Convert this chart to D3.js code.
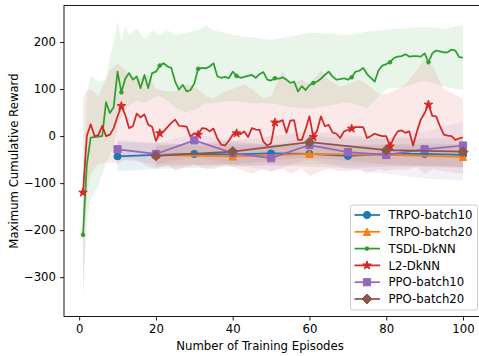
<!DOCTYPE html>
<html>
<head>
<meta charset="utf-8">
<script src="https://cdn.jsdelivr.net/npm/d3@7/dist/d3.min.js"></script>
<style>
  html, body { margin: 0; padding: 0; background: #fff; }
  svg { display: block; font-family: "DejaVu Sans", sans-serif; }
</style>
</head>
<body>
<svg id="chart" width="479" height="356"></svg>
<script>
// Episodes 1..100 for the two DkNN curves
const episodes = d3.range(1, 101);

const tsdlValues = [-210, -60, -3, -2, -1, 0, 72, 49, 62, 137,
  93, 122, 134, 120, 127, 102, 130, 102, 134, 137,
  150, 155, 148, 145, 116, 99, 109, 95, 98, 112,
  143, 145, 144, 148, 155, 127, 124, 126, 123, 137,
  128, 124, 126, 128, 130, 124, 132, 136, 120, 118,
  123, 122, 125, 120, 113, 116, 95, 106, 98, 108,
  113, 116, 122, 130, 137, 127, 120, 121, 123, 120,
  125, 137, 139, 145, 132, 124, 116, 140, 150, 153,
  157, 166, 169, 170, 174, 169, 170, 170, 169, 176,
  157, 176, 182, 180, 178, 178, 184, 182, 168, 167];

const l2Values = [-120, 0, 25, 0, 2, 22, 0, 3, 17, 42,
  64, 45, 17, 21, 48, 40, 46, 24, 20, -10,
  6, 10, 19, 28, 35, 22, 21, 20, -1, 6,
  3, 17, 16, 10, 16, -5, -18, -20, -10, 3,
  6, 4, 10, -2, 17, 14, 13, -12, -20, -15,
  29, 30, 34, 7, 33, 34, -8, -8, 15, 42,
  -2, 12, 42, 21, 24, 8, 5, -4, 10, 13,
  16, 19, 19, 19, -4, 0, 5, 2, 0, 0,
  -22, -3, 10, 12, 7, 10, -20, 10, 35, 49,
  67, 43, 42, 21, 3, 1, 0, -8, -5, -3];

// Shaded spread of the DkNN curves, read at a coarser step
const tsdlBandX = [1, 2, 3, 5, 7, 8, 9, 10, 11, 12, 13, 15, 17, 19, 21, 23, 25, 28, 31, 33,
  35, 40, 45, 50, 55, 60, 65, 70, 75, 80, 85, 90, 95, 100];
const tsdlUpper = [-100, 90, 130, 115, 120, 170, 200, 245, 200, 233, 215, 230, 205, 225, 215, 225, 215, 220, 225, 235,
  225, 215, 210, 205, 212, 220, 218, 215, 222, 226, 230, 232, 228, 237];
const tsdlLower = [-350, -180, -135, -105, -57, -40, -20, 20, 40, 55, 65, 75, 70, 80, 85, 75, 60, 50, 60, 70,
  70, 75, 70, 70, 62, 58, 65, 72, 60, 100, 105, 118, 105, 98];

const l2BandX = [1, 2, 3, 5, 8, 10, 12, 15, 18, 20, 23, 25, 28, 30, 33, 35, 38, 40, 43, 45,
  48, 50, 53, 55, 58, 60, 63, 65, 68, 70, 73, 75, 78, 80, 83, 85, 88, 90, 92, 95, 100];
const l2Upper = [80, 95, 100, 85, 140, 155, 140, 120, 130, 100, 95, 95, 110, 105, 85, 80, 95, 100, 110, 100,
  80, 85, 140, 110, 120, 110, 140, 120, 105, 110, 120, 110, 90, 90, 100, 110, 140, 165, 150, 100, 80];
const l2Lower = [-330, -120, -80, -60, -55, -60, -50, -50, -65, -70, -60, -75, -65, -60, -70, -70, -60, -65, -75, -80,
  -70, -75, -70, -80, -70, -85, -75, -70, -75, -75, -70, -80, -70, -75, -70, -72, -65, -80, -70, -75, -80];

// Baselines, evaluated every 10 / 20 episodes
const batch10X = [10, 20, 30, 40, 50, 60, 70, 80, 90, 100];
const batch20X = [20, 40, 60, 80, 100];

const trpo10Values = [-43, -40, -38, -39, -37, -38, -42, -38, -38, -40];
const trpo10Upper = [-12, -15, -18, -15, -17, -18, -20, -18, -15, -18];
const trpo10Lower = [-75, -70, -68, -65, -62, -65, -68, -65, -65, -68];

const trpo20Values = [-40, -43, -38, -40, -44];
const trpo20Upper = [-20, -22, -18, -20, -22];
const trpo20Lower = [-60, -62, -60, -62, -65];

const ppo10Values = [-28, -38, -9, -36, -47, -19, -34, -40, -28, -20];
const ppo10Upper = [-8, -15, 5, -10, -20, 0, -5, -5, 10, 30];
const ppo10Lower = [-50, -60, -45, -60, -75, -50, -70, -80, -90, -95];

const ppo20Values = [-42, -33, -13, -30, -33];
const ppo20Upper = [-20, -10, 10, -5, -5];
const ppo20Lower = [-65, -60, -45, -60, -65];

const xTicks = [0, 20, 40, 60, 80, 100];
const yTicks = [-300, -200, -100, 0, 100, 200];

// Series in plotting order (later ones sit on top)
const series = [
  { name: 'TRPO-batch10', color: '#1f77b4', marker: 'circle', x: batch10X, y: trpo10Values, lo: trpo10Lower, hi: trpo10Upper, bx: batch10X, every: 1 },
  { name: 'TRPO-batch20', color: '#ff7f0e', marker: 'triangle', x: batch20X, y: trpo20Values, lo: trpo20Lower, hi: trpo20Upper, bx: batch20X, every: 1 },
  { name: 'TSDL-DkNN', color: '#2ca02c', marker: 'point', x: episodes, y: tsdlValues, lo: tsdlLower, hi: tsdlUpper, bx: tsdlBandX, every: 10 },
  { name: 'L2-DkNN', color: '#d62728', marker: 'star', x: episodes, y: l2Values, lo: l2Lower, hi: l2Upper, bx: l2BandX, every: 10 },
  { name: 'PPO-batch10', color: '#9467bd', marker: 'square', x: batch10X, y: ppo10Values, lo: ppo10Lower, hi: ppo10Upper, bx: batch10X, every: 1 },
  { name: 'PPO-batch20', color: '#8c564b', marker: 'diamond', x: batch20X, y: ppo20Values, lo: ppo20Lower, hi: ppo20Upper, bx: batch20X, every: 1 }
];

const FONT = 11.7;
const svg = d3.select('#chart');
const margin = { left: 64, top: 5.5, right: 482, bottom: 316.5 };

const x = d3.scaleLinear().domain([-3.95, 104.95]).range([margin.left, margin.right]);
const y = d3.scaleLinear().domain([-383.6, 277.7]).range([margin.bottom, margin.top]);

svg.append('defs').append('clipPath').attr('id', 'plot-clip')
  .append('rect')
    .attr('x', margin.left).attr('y', margin.top)
    .attr('width', margin.right - margin.left).attr('height', margin.bottom - margin.top);

const plot = svg.append('g').attr('clip-path', 'url(#plot-clip)');

// Bands first (matplotlib puts fills below all lines)
const area = d3.area().x(d => x(d[0])).y0(d => y(d[1])).y1(d => y(d[2]));
series.forEach(s => {
  plot.append('path')
      .datum(s.bx.map((v, i) => [v, s.lo[i], s.hi[i]]))
      .attr('fill', s.color)
      .attr('fill-opacity', 0.1)
      .attr('d', area);
});

// Marker shapes, roughly matplotlib's default markersize 6 at this scale
function markerPath(type) {
  const p = d3.path();
  if (type === 'circle') { p.arc(0, 0, 3.6, 0, 2 * Math.PI); }
  else if (type === 'point') { p.arc(0, 0, 1.8, 0, 2 * Math.PI); }
  else if (type === 'square') { p.rect(-3.6, -3.6, 7.2, 7.2); }
  else if (type === 'triangle') { p.moveTo(0, -3.7); p.lineTo(3.7, 3.7); p.lineTo(-3.7, 3.7); p.closePath(); }
  else if (type === 'diamond') { p.moveTo(0, -5); p.lineTo(5, 0); p.lineTo(0, 5); p.lineTo(-5, 0); p.closePath(); }
  else if (type === 'star') {
    for (let i = 0; i < 10; i++) {
      const r = i % 2 === 0 ? 4.5 : 1.75;
      const a = -Math.PI / 2 + i * Math.PI / 5;
      if (i === 0) p.moveTo(r * Math.cos(a), r * Math.sin(a));
      else p.lineTo(r * Math.cos(a), r * Math.sin(a));
    }
    p.closePath();
  }
  return p.toString();
}

const line = d3.line().x(d => x(d[0])).y(d => y(d[1]));
series.forEach(s => {
  const pts = s.x.map((v, i) => [v, s.y[i]]);
  const g = plot.append('g');
  g.append('path')
      .datum(pts)
      .attr('fill', 'none')
      .attr('stroke', s.color)
      .attr('stroke-width', 1.75)
      .attr('stroke-linejoin', 'round')
      .attr('d', line);
  g.selectAll('path.mk')
    .data(pts.filter((d, i) => i % s.every === 0))
    .join('path')
      .attr('class', 'mk')
      .attr('transform', d => `translate(${x(d[0])},${y(d[1])})`)
      .attr('d', markerPath(s.marker))
      .attr('fill', s.color)
      .attr('stroke', s.color)
      .attr('stroke-width', 1);
});

// Axes
const xAxis = svg.append('g')
    .attr('transform', `translate(0,${margin.bottom})`)
    .call(d3.axisBottom(x).tickValues(xTicks).tickSize(4).tickPadding(4));
const yAxis = svg.append('g')
    .attr('transform', `translate(${margin.left},0)`)
    .call(d3.axisLeft(y).tickValues(yTicks).tickSize(4).tickPadding(4)
      .tickFormat(d => d < 0 ? '\u2212' + Math.abs(d) : d));
[xAxis, yAxis].forEach(a => {
  a.selectAll('text').attr('font-size', FONT).attr('fill', '#000').attr('font-family', '"DejaVu Sans", sans-serif');
  a.selectAll('line').attr('stroke', '#000').attr('stroke-width', 0.9);
  a.select('.domain').remove();
});

// Spines
svg.append('rect')
    .attr('x', margin.left).attr('y', margin.top)
    .attr('width', margin.right - margin.left).attr('height', margin.bottom - margin.top)
    .attr('fill', 'none').attr('stroke', '#000').attr('stroke-width', 0.9);

svg.append('text')
    .attr('x', 260).attr('y', 350)
    .attr('text-anchor', 'middle').attr('font-size', FONT)
    .text('Number of Training Episodes');

svg.append('text')
    .attr('transform', `translate(18,${(margin.top + margin.bottom) / 2}) rotate(-90)`)
    .attr('text-anchor', 'middle').attr('font-size', FONT)
    .text('Maximum Cumulative Reward');

// Legend, lower right
const legend = svg.append('g').attr('transform', 'translate(350.5,205)');
legend.append('rect')
    .attr('width', 127).attr('height', 105).attr('rx', 2.5)
    .attr('fill', '#fff').attr('fill-opacity', 0.8)
    .attr('stroke', '#ccc').attr('stroke-width', 1);
series.forEach((s, i) => {
  const row = legend.append('g').attr('transform', `translate(0,${10 + i * 16.8})`);
  row.append('line').attr('x1', 4).attr('x2', 29.5).attr('y1', 0).attr('y2', 0)
      .attr('stroke', s.color).attr('stroke-width', 1.75);
  row.append('path').attr('transform', 'translate(16.5,0)').attr('d', markerPath(s.marker))
      .attr('fill', s.color).attr('stroke', s.color).attr('stroke-width', 1);
  row.append('text').attr('x', 38).attr('y', 0).attr('dy', '0.35em')
      .attr('font-size', FONT).text(s.name);
});
</script>
</body>
</html>
